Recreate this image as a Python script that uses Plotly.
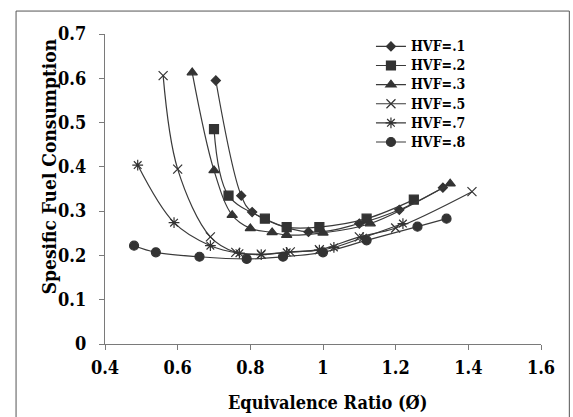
import plotly.graph_objects as go

# Specific fuel consumption vs equivalence ratio for several HVF values
hvf_labels = ["HVF=.1", "HVF=.2", "HVF=.3", "HVF=.5", "HVF=.7", "HVF=.8"]

phi_01 = [0.705, 0.775, 0.805, 0.96, 1.10, 1.21, 1.33]
sfc_01 = [0.595, 0.335, 0.298, 0.253, 0.272, 0.303, 0.353]

phi_02 = [0.70, 0.74, 0.84, 0.90, 0.99, 1.12, 1.25]
sfc_02 = [0.485, 0.335, 0.283, 0.264, 0.264, 0.283, 0.326]

phi_03 = [0.64, 0.70, 0.75, 0.80, 0.86, 0.90, 1.00, 1.13, 1.35]
sfc_03 = [0.613, 0.392, 0.291, 0.261, 0.252, 0.246, 0.251, 0.272, 0.362]

phi_05 = [0.56, 0.60, 0.69, 0.76, 0.83, 0.91, 0.99, 1.10, 1.20, 1.41]
sfc_05 = [0.606, 0.395, 0.242, 0.207, 0.203, 0.208, 0.213, 0.242, 0.262, 0.344]

phi_07 = [0.49, 0.59, 0.69, 0.77, 0.83, 0.90, 0.99, 1.03, 1.11, 1.22]
sfc_07 = [0.404, 0.274, 0.222, 0.205, 0.202, 0.207, 0.212, 0.218, 0.240, 0.272]

phi_08 = [0.48, 0.54, 0.66, 0.79, 0.89, 1.00, 1.12, 1.26, 1.34]
sfc_08 = [0.222, 0.207, 0.197, 0.192, 0.197, 0.207, 0.234, 0.265, 0.283]

x_ticks = [0.4, 0.6, 0.8, 1.0, 1.2, 1.4, 1.6]
y_ticks = [0, 0.1, 0.2, 0.3, 0.4, 0.5, 0.6, 0.7]

series = [
    (phi_01, sfc_01, "diamond", 7),
    (phi_02, sfc_02, "square", 9),
    (phi_03, sfc_03, "triangle-up", 9),
    (phi_05, sfc_05, "x-thin-open", 9),
    (phi_07, sfc_07, "asterisk-open", 9),
    (phi_08, sfc_08, "circle", 9),
]

FONT = "DejaVu Serif Condensed"
LINE_C = "#3a3a3a"
MARK_C = "#333333"

fig = go.Figure()
for name, (xs, ys, sym, size) in zip(hvf_labels, series):
    fig.add_trace(go.Scatter(
        x=xs, y=ys, mode="lines+markers",
        name='<span style="font-size:14px">' + name + "</span>",
        line=dict(color=LINE_C, width=1.2, shape="spline", smoothing=1),
        marker=dict(symbol=sym, size=size, color=MARK_C,
                    line=dict(color=MARK_C, width=1.2)),
    ))

axis_common = dict(
    showgrid=False, zeroline=False, showline=True, linecolor="#7a7a7a",
    linewidth=1.3, ticks="outside", ticklen=5, tickcolor="#7a7a7a",
    tickwidth=1.3,
    tickfont=dict(family=FONT, size=18, color="black", weight="bold"),
)

fig.update_layout(
    width=573, height=417,
    margin=dict(l=105, r=32, t=34, b=73),
    paper_bgcolor="white", plot_bgcolor="white",
    xaxis=dict(range=[0.4, 1.6], tickvals=x_ticks, ticklabelstandoff=2,
               **axis_common),
    yaxis=dict(range=[0, 0.7], tickvals=y_ticks, ticklabelstandoff=9,
               **axis_common),
    showlegend=True,
    legend=dict(x=0.61, y=1.007, xanchor="left", yanchor="top",
                bgcolor="rgba(0,0,0,0)", tracegroupgap=0,
                font=dict(family=FONT, size=12.4, color="black",
                          weight="bold")),
    annotations=[
        dict(text="Equivalence Ratio (Ø)", xref="paper", yref="paper",
             x=0.511, y=-0.19, xanchor="center", yanchor="middle",
             showarrow=False,
             font=dict(family=FONT, size=18, color="black", weight="bold")),
        dict(text="Spesific Fuel Consumption", xref="paper", yref="paper",
             x=-0.128, y=0.574, xanchor="center", yanchor="middle",
             textangle=-90, showarrow=False,
             font=dict(family=FONT, size=19, color="black", weight="bold")),
    ],
    shapes=[
        dict(type="rect", xref="paper", yref="paper",
             x0=-0.204, x1=1.065, y0=-0.35, y1=1.074,
             line=dict(color="#555555", width=1), fillcolor="rgba(0,0,0,0)"),
    ],
)

fig.write_html("out.html")
